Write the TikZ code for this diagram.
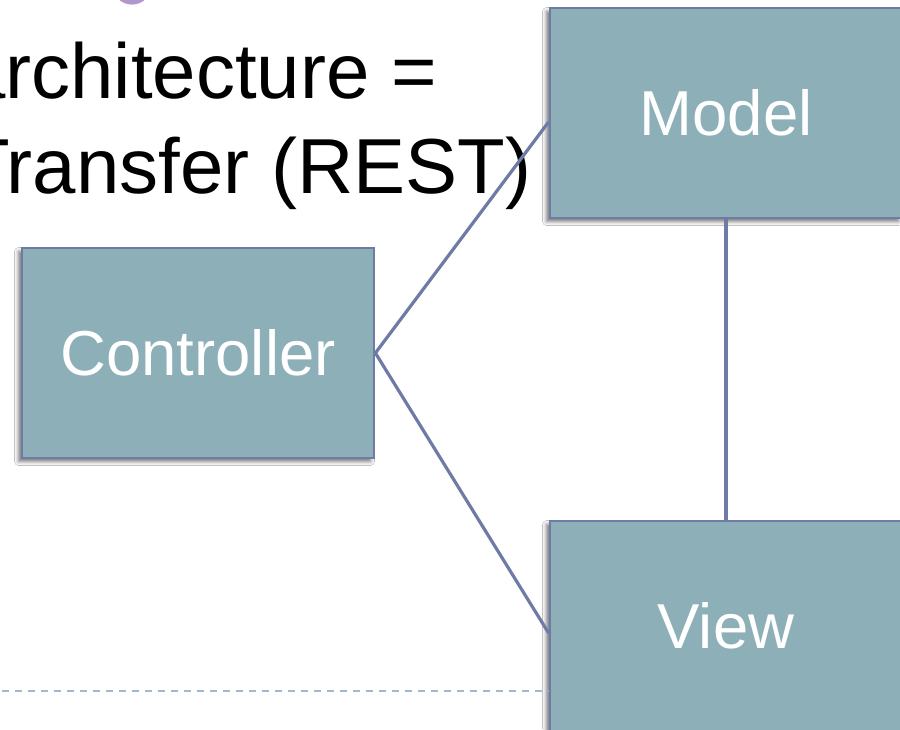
\documentclass[tikz,border=0pt]{standalone}
\usepackage{fontspec}
\setmainfont{Liberation Sans}
\usetikzlibrary{shadows.blur}

\definecolor{boxfill}{HTML}{8CAFB8}
\definecolor{boxline}{HTML}{6E7BA5}
\definecolor{rulecol}{HTML}{A3B8D0}
\definecolor{dotcol}{HTML}{B296D0}

\tikzset{
  mvcbox/.style={
    rectangle, fill=boxfill, draw=boxline, line width=2.8pt,
    minimum width=352pt, minimum height=210pt, inner sep=0pt,
    text=white, font=\fontsize{63.5}{70}\selectfont,
    blur shadow={shadow xshift=-3.5pt, shadow yshift=-3.5pt,
                 shadow blur radius=4pt, shadow opacity=55}},
  link/.style={draw=boxline, line width=3.2pt},
  titletext/.style={anchor=base west, inner sep=0pt,
    font=\fontsize{78}{95}\selectfont, text=black},
  sliderule/.style={draw=rulecol, line width=2pt,
    dash pattern=on 7pt off 6pt}
}

\begin{document}
\begin{tikzpicture}[x=1pt, y=-1pt]
  \useasboundingbox (0,0) rectangle (900,729);
  \clip (0,0) rectangle (900,729);
  \fill[white] (0,0) rectangle (900,729);

  % bullet disc above the title
  \fill[dotcol] (132,-15) circle (19.6);

  % title lines
  \node[titletext] (line1) at (-38,98) {architecture =};
  \node[titletext] (line2) at (-38,193) {Transfer (REST)};

  % footer rule
  \coordinate (ruleL) at (2,691);

  % boxes
  \node[mvcbox] (controller) at (198,353) {Controller};
  \node[mvcbox] (model) at (726,113) {Model};
  \node[mvcbox] (view) at (726,626) {View};

  \draw[sliderule] (ruleL) -- (view.west |- ruleL);

  % connectors
  \draw[link] (controller.east) -- ([yshift=-9pt]model.west);
  \draw[link] (controller.east) -- ([yshift=-7pt]view.west);
  \draw[link] (model.south) -- (view.north);
\end{tikzpicture}
\end{document}
